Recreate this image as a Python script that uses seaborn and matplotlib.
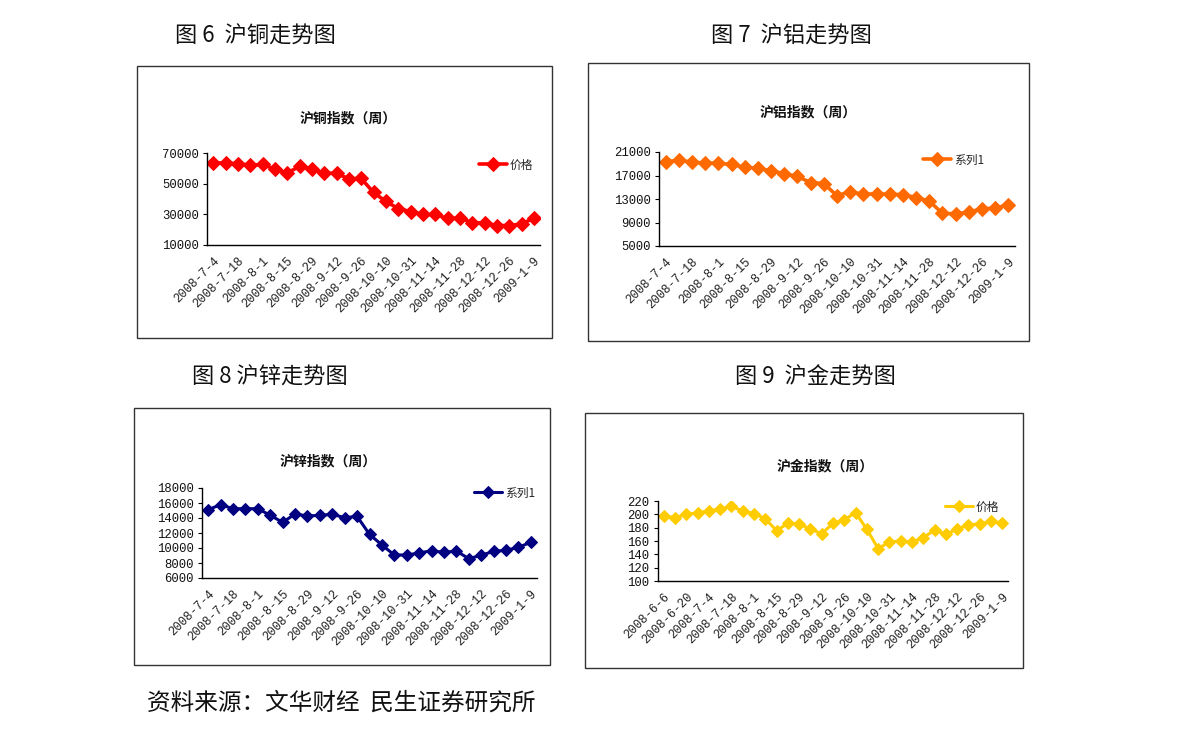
import numpy as np
import pandas as pd
import seaborn as sns
import matplotlib
matplotlib.use("Agg")
import matplotlib.pyplot as plt
from matplotlib.patches import Rectangle

# ---------------- data ----------------
dates_27 = ["2008-7-4", "2008-7-11", "2008-7-18", "2008-7-25", "2008-8-1", "2008-8-8",
            "2008-8-15", "2008-8-22", "2008-8-29", "2008-9-5", "2008-9-12", "2008-9-19",
            "2008-9-26", "2008-9-30", "2008-10-10", "2008-10-24", "2008-10-31", "2008-11-7",
            "2008-11-14", "2008-11-21", "2008-11-28", "2008-12-5", "2008-12-12", "2008-12-19",
            "2008-12-26", "2009-1-2", "2009-1-9"]
dates_gold = ["2008-6-6", "2008-6-13", "2008-6-20", "2008-6-27"] + dates_27

copper = [63500, 63500, 63000, 62100, 62500, 59500, 56900, 61300, 59300, 56900, 56700,
          53200, 53400, 44300, 38400, 33800, 31800, 29900, 29900, 27300, 27500, 24600,
          24400, 22700, 22700, 23700, 27500]
aluminum = [19300, 19640, 19250, 19135, 19080, 18900, 18400, 18230, 17780, 17330, 16830,
            15800, 15630, 13560, 14240, 13800, 13900, 13800, 13740, 13250, 12640, 10550,
            10490, 10770, 11340, 11450, 12020]
zinc = [15110, 15780, 15240, 15240, 15240, 14360, 13420, 14530, 14270, 14360, 14490,
        14040, 14220, 11820, 10400, 9070, 9070, 9330, 9640, 9420, 9600, 8580, 9030,
        9560, 9690, 10090, 10760]
gold = [198, 195, 200, 202, 205.5, 207.5, 212, 205, 201, 193.5, 175.5, 186.5, 185.5,
        178, 171, 186.5, 192, 202.5, 177.5, 148.5, 158.5, 160, 158.5, 165, 176.5, 170,
        178, 184.5, 185.5, 189.5, 187]

panels = [
    dict(title="沪铜指数（周）", caption="图 6  沪铜走势图", dates=dates_27, values=copper,
         series="价格", color="#FF0000", yticks=[10000, 30000, 50000, 70000]),
    dict(title="沪铝指数（周）", caption="图 7  沪铝走势图", dates=dates_27, values=aluminum,
         series="系列1", color="#FF6A00", yticks=[5000, 9000, 13000, 17000, 21000]),
    dict(title="沪锌指数（周）", caption="图 8 沪锌走势图", dates=dates_27, values=zinc,
         series="系列1", color="#000080", yticks=[6000, 8000, 10000, 12000, 14000, 16000, 18000]),
    dict(title="沪金指数（周）", caption="图 9  沪金走势图", dates=dates_gold, values=gold,
         series="价格", color="#FFCC00", yticks=[100, 120, 140, 160, 180, 200, 220]),
]
source_text = "资料来源：文华财经  民生证券研究所"

# ---------------- layout (pixels in a 1190x735 canvas) ----------------
W, H = 1190, 735
axes_px = [(207, 153, 540, 245), (659, 152, 1015, 246), (202, 488, 537, 578), (658, 501, 1008, 581)]
box_px = [(137, 66, 552, 338), (588, 63, 1029, 341), (134, 408, 550, 665), (585, 413, 1023, 668)]
title_px = [(348, 118), (808, 112), (328, 461), (825, 466)]
caption_px = [(255, 36), (791, 36), (270, 377), (815, 377)]
legend_px = [(479, 165), (923, 160), (474, 493), (945, 507)]
lw = [2.6, 2.6, 2.2, 2.2]
ms = [7.0, 7.0, 6.0, 6.5]

sns.set_style("white")
plt.rcParams["font.family"] = ["Liberation Mono", "Noto Sans CJK SC", "DejaVu Sans"]
cjk = ["Noto Sans CJK SC", "DejaVu Sans"]

fig = plt.figure(figsize=(W / 100, H / 100), dpi=100)
fig.patch.set_facecolor("white")

def fx(x):
    return x / W

def fy(y):
    return 1 - y / H

for p, apx, bpx, tpx, cpx, lpx, w, m in zip(panels, axes_px, box_px, title_px, caption_px,
                                            legend_px, lw, ms):
    x0, y0, x1, y1 = bpx
    fig.add_artist(Rectangle((fx(x0), fy(y1)), fx(x1 - x0), (y1 - y0) / H,
                             transform=fig.transFigure, fill=False,
                             edgecolor="#333333", linewidth=1.0))
    ax0, ay0, ax1, ay1 = apx
    ax = fig.add_axes([fx(ax0), fy(ay1), fx(ax1 - ax0), (ay1 - ay0) / H])
    ax.set_facecolor("none")
    df = pd.DataFrame({"pos": np.arange(len(p["dates"])), "value": p["values"]})
    sns.lineplot(data=df, x="pos", y="value", ax=ax, color=p["color"], linewidth=w,
                 marker="D", markersize=m, markeredgecolor=p["color"],
                 label=p["series"], legend=False)
    n = len(p["dates"])
    ax.set_xlim(-0.5, n - 0.5)
    ax.set_ylim(p["yticks"][0], p["yticks"][-1])
    ax.set_yticks(p["yticks"])
    ax.set_yticklabels([str(v) for v in p["yticks"]], fontsize=8.8, color="#111111")
    ax.set_xticks(np.arange(0, n, 2))
    ax.set_xticklabels(p["dates"][::2], rotation=45, ha="right", rotation_mode="anchor",
                       fontsize=8.8, color="#222222")
    ax.set_xticks(np.arange(-0.5, n, 1), minor=True)
    ax.tick_params(axis="x", which="major", length=0, pad=7)
    ax.tick_params(axis="x", which="minor", length=4, width=0.8, direction="out", color="black")
    ax.tick_params(axis="y", length=3, width=0.8, direction="out", color="black", pad=3, left=True)
    ax.set_xlabel("")
    ax.set_ylabel("")
    for s in ["top", "right"]:
        ax.spines[s].set_visible(False)
    for s in ["left", "bottom"]:
        ax.spines[s].set_color("black")
        ax.spines[s].set_linewidth(1.0)
    ax.grid(False)
    ax.legend(loc="center left", bbox_to_anchor=(fx(lpx[0]), fy(lpx[1])),
              bbox_transform=fig.transFigure, frameon=False, borderpad=0,
              borderaxespad=0, handlelength=2.4, handletextpad=0.2,
              prop={"family": cjk, "size": 8.5})
    fig.text(fx(tpx[0]), fy(tpx[1]), p["title"], ha="center", va="center",
             fontsize=10, fontweight="bold", family=cjk, color="#111111")
    fig.text(fx(cpx[0]), fy(cpx[1]), p["caption"], ha="center", va="center",
             fontsize=16, family=cjk, color="#111111")

fig.text(fx(147), fy(703), source_text, ha="left", va="center", fontsize=17,
         family=cjk, color="#111111")

fig.savefig("out.png", dpi=100, facecolor="white")
